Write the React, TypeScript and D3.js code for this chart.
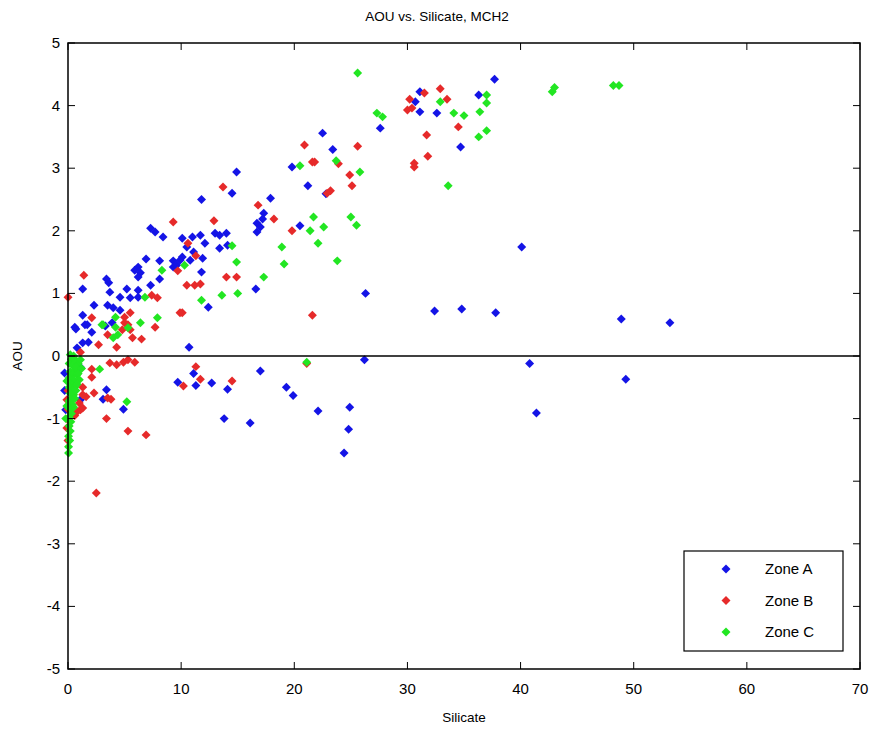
import React, { useEffect } from "react";
import * as d3 from "d3";

// Zone A (blue)
const zoneAx = [37.7,31.1,30.7,31.1,32.6,36.3,27.6,34.7,23.4,22.5,19.8,21.2,22.8,14.9,14.5,11.8,17.9,17.3,17.2,16.7,17.0,16.7,20.5,16.6,11.8,13.0,13.4,14.0,11.7,12.1,13.4,14.1,10.1,11.0,10.5,11.1,10.1,10.8,11.9,12.4,7.3,7.7,8.4,6.9,8.1,9.3,9.9,6.2,5.9,6.4,6.2,8.1,9.3,9.6,3.4,3.6,7.3,1.3,3.7,5.2,6.2,4.6,5.5,6.2,2.3,3.5,4.0,4.6,1.3,3.9,3.3,0.6,1.5,0.7,1.7,2.1,1.3,1.8,0.8,10.7,9.7,3.4,3.1,4.9,-0.3,-0.3,-0.2,1.1,1.1,26.3,26.2,11.1,11.3,12.7,14.1,17.0,19.3,19.9,13.8,16.1,22.1,24.9,24.8,24.4,40.1,32.4,34.8,37.8,40.8,41.4,48.9,49.3,53.2];
const zoneAy = [4.42,4.22,4.06,3.9,3.88,4.17,3.64,3.34,3.3,3.56,3.02,2.72,2.59,2.94,2.6,2.5,2.52,2.28,2.19,2.12,2.06,1.98,2.08,1.07,1.34,1.96,1.93,1.96,1.93,1.8,1.72,1.77,1.88,1.9,1.74,1.66,1.58,1.53,1.56,0.78,2.04,1.98,1.9,1.55,1.52,1.52,1.53,1.42,1.37,1.33,1.26,1.23,1.42,1.45,1.23,1.17,1.13,1.07,1.02,1.07,1.05,0.94,0.93,0.94,0.81,0.81,0.77,0.73,0.65,0.53,0.48,0.46,0.5,0.43,0.5,0.38,0.21,0.22,0.13,0.14,-0.42,-0.54,-0.69,-0.85,-0.27,-0.55,-0.86,-0.18,-0.7,1.0,-0.06,-0.28,-0.47,-0.43,-0.53,-0.24,-0.5,-0.63,-1.0,-1.07,-0.88,-0.82,-1.17,-1.55,1.74,0.72,0.75,0.69,-0.12,-0.91,0.59,-0.37,0.53];

// Zone B (red)
const zoneBx = [31.5,32.9,30.2,30.0,30.4,33.5,34.5,31.7,31.8,30.6,30.6,25.6,23.9,24.9,25.1,23.2,20.9,21.6,21.8,22.9,13.7,16.8,18.2,12.9,19.8,14.0,14.9,10.6,11.3,10.5,11.2,11.7,10.1,9.3,9.7,1.4,0.0,7.4,7.9,9.9,2.1,5.5,5.0,5.0,5.3,3.5,4.8,5.5,5.7,6.5,7.7,4.3,2.7,1.1,3.7,4.3,4.9,5.3,5.9,2.1,2.1,10.2,2.3,3.5,3.8,1.6,3.4,5.3,6.9,2.5,1.1,1.3,0.8,0.6,1.0,1.3,1.3,0.0,-0.1,0.0,0.0,-0.1,0.0,21.6,21.1,11.3,11.7,14.5,0.3];
const zoneBy = [4.2,4.27,4.1,3.93,3.96,4.1,3.66,3.53,3.19,3.08,3.02,3.35,3.07,2.89,2.72,2.64,3.37,3.1,3.1,2.6,2.7,2.41,2.19,2.16,2.0,1.26,1.26,1.8,1.6,1.13,1.13,1.15,0.69,2.14,1.36,1.29,0.94,0.97,0.93,0.69,0.61,0.69,0.62,0.53,0.5,0.34,0.42,0.42,0.29,0.27,0.46,0.14,0.18,0.06,-0.11,-0.14,-0.1,-0.06,-0.1,-0.21,-0.34,-0.48,-0.59,-0.67,-0.69,-0.65,-1.0,-1.2,-1.26,-2.19,-0.86,-0.83,-0.89,-0.95,-0.75,-0.5,-0.62,-0.55,-0.7,-0.85,-1.02,-1.15,-1.35,0.65,-0.12,-0.17,-0.37,-0.4,-0.3];

// Zone C (green)
const zoneCx = [25.6,32.9,37.0,37.0,36.4,34.1,35.0,27.3,27.8,37.0,36.3,33.6,23.7,25.8,25.0,25.5,23.8,42.8,43.0,48.2,48.7,20.5,21.7,21.4,22.6,22.1,18.9,19.1,17.3,15.0,13.6,14.5,14.9,10.3,11.8,8.3,6.8,4.2,3.0,6.4,7.9,5.3,3.1,4.2,4.0,4.4,2.8,5.2,21.1,0.2,0.5,0.3,0.7,0.1,0.4,0.9,0.6,0.2,0.4,0.8,0.1,0.5,0.3,0.6,0.1,0.4,0.2,0.5,0.3,0.1,0.4,0.2,0.3,0.1,0.25,0.1,0.2,0.05,0.15,0.05,0.05,-0.1,-0.1,-0.2,0.6,0.7,1.1,1.2,0.9,1.0,0.8,0.7,0.6,0.5];
const zoneCy = [4.52,4.06,4.17,4.04,3.9,3.88,3.84,3.88,3.82,3.6,3.5,2.72,3.12,2.94,2.22,2.09,1.52,4.22,4.29,4.32,4.32,3.04,2.22,2.0,2.06,1.8,1.74,1.47,1.26,1.0,0.97,1.76,1.5,1.45,0.89,1.37,0.94,0.62,0.5,0.53,0.61,0.45,0.5,0.46,0.29,0.34,-0.21,-0.73,-0.1,0.02,0.0,-0.05,-0.08,-0.12,-0.15,-0.12,-0.22,-0.25,-0.3,-0.3,-0.35,-0.38,-0.45,-0.5,-0.5,-0.55,-0.6,-0.62,-0.7,-0.72,-0.78,-0.85,-0.92,-0.98,-1.05,-1.12,-1.2,-1.28,-1.35,-1.45,-1.55,-0.4,-0.8,-1.0,-0.05,-0.18,-0.06,-0.2,-0.28,-0.38,-0.45,-0.55,-0.68,-0.82];

const xTicks = [0, 10, 20, 30, 40, 50, 60, 70];
const yTicks = [-5, -4, -3, -2, -1, 0, 1, 2, 3, 4, 5];
const zoneNames = ["Zone A", "Zone B", "Zone C"];
const zoneColors = ["#1414e6", "#e62a2a", "#22e622"];

const W = 874;
const H = 733;
const left = 68;
const right = 860;
const top = 43;
const bottom = 669;
const font = "'Liberation Sans', Arial, sans-serif";

export default function App() {
  useEffect(() => {
    document.body.style.margin = "0";
  }, []);

  const x = d3.scaleLinear().domain([0, 70]).range([left, right]);
  const y = d3.scaleLinear().domain([-5, 5]).range([bottom, top]);
  const diamond = d3.symbol(d3.symbolSquare, 40)();

  const series = [
    zoneAx.map((v, i) => [v, zoneAy[i]]),
    zoneBx.map((v, i) => [v, zoneBy[i]]),
    zoneCx.map((v, i) => [v, zoneCy[i]]),
  ];

  const tick = 7;

  return (
    <svg width={W} height={H} style={{ display: "block", background: "#fff" }}>
      <text x={W / 2} y={21} textAnchor="middle" fontFamily={font} fontSize={13.5}>
        AOU vs. Silicate, MCH2
      </text>

      {series.map((pts, s) =>
        pts.map((p, i) => (
          <path
            key={s + "-" + i}
            d={diamond!}
            transform={`translate(${x(p[0])},${y(p[1])}) rotate(45)`}
            fill={zoneColors[s]}
          />
        ))
      )}

      {/* zero line */}
      <line x1={x(0)} x2={x(70)} y1={y(0)} y2={y(0)} stroke="#000" strokeWidth={1.5} />

      {/* box */}
      <rect x={left} y={top} width={right - left} height={bottom - top} fill="none" stroke="#000" strokeWidth={1.5} />

      {xTicks.map((t) => (
        <g key={"x" + t}>
          <line x1={x(t)} x2={x(t)} y1={bottom} y2={bottom - tick} stroke="#000" />
          <line x1={x(t)} x2={x(t)} y1={top} y2={top + tick} stroke="#000" />
          <text x={x(t)} y={bottom + 25} textAnchor="middle" fontFamily={font} fontSize={15}>
            {t}
          </text>
        </g>
      ))}
      {yTicks.map((t) => (
        <g key={"y" + t}>
          <line x1={left} x2={left + tick} y1={y(t)} y2={y(t)} stroke="#000" />
          <line x1={right} x2={right - tick} y1={y(t)} y2={y(t)} stroke="#000" />
          <text x={left - 8} y={y(t) + 5} textAnchor="end" fontFamily={font} fontSize={15}>
            {t}
          </text>
        </g>
      ))}

      <text x={(left + right) / 2} y={722} textAnchor="middle" fontFamily={font} fontSize={13.5}>
        Silicate
      </text>
      <text
        transform={`translate(22,${(top + bottom) / 2}) rotate(-90)`}
        textAnchor="middle"
        fontFamily={font}
        fontSize={13.5}
      >
        AOU
      </text>

      {/* legend */}
      <rect x={684} y={551} width={159} height={100} fill="#fff" stroke="#000" strokeWidth={1.2} />
      {zoneNames.map((n, i) => (
        <g key={n} transform={`translate(0,${569 + i * 31.5})`}>
          <path d={diamond!} transform="translate(726,0) rotate(45)" fill={zoneColors[i]} />
          <text x={765} y={5} fontFamily={font} fontSize={15}>
            {n}
          </text>
        </g>
      ))}
    </svg>
  );
}
